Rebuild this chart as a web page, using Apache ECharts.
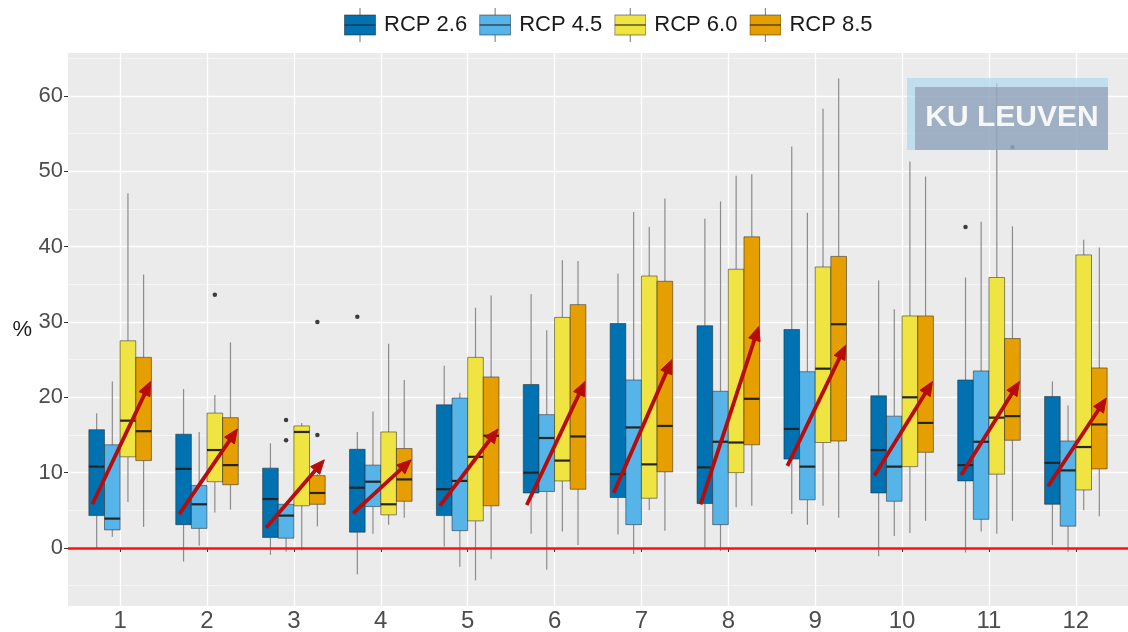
<!DOCTYPE html>
<html>
<head>
<meta charset="utf-8">
<script src="https://cdn.jsdelivr.net/npm/echarts@6/dist/echarts.min.js"></script>
<style>
  html, body { margin: 0; padding: 0; background: #ffffff; }
  #chart { width: 1128px; height: 632px; }
</style>
</head>
<body>
<div id="chart"></div>
<script>
// Months on the horizontal axis
const months = [1, 2, 3, 4, 5, 6, 7, 8, 9, 10, 11, 12];
const yTicks = [0, 10, 20, 30, 40, 50, 60];
const yMinorTicks = [-5, 5, 15, 25, 35, 45, 55, 65];

const scenarioNames = ['RCP 2.6', 'RCP 4.5', 'RCP 6.0', 'RCP 8.5'];

// Box statistics per month: [lower whisker, Q1, median, Q3, upper whisker] (%)
const rcp26 = [
  [0.0, 4.3, 10.8, 15.7, 17.9],
  [-1.8, 3.1, 10.5, 15.1, 21.1],
  [-0.9, 1.4, 6.5, 10.6, 13.9],
  [-3.5, 2.1, 8.0, 13.1, 15.4],
  [0.2, 4.3, 7.8, 19.0, 24.2],
  [1.9, 7.3, 10.0, 21.7, 33.7],
  [1.8, 6.7, 9.8, 29.8, 36.4],
  [0.0, 5.9, 10.7, 29.5, 43.7],
  [4.5, 11.8, 15.8, 29.0, 53.3],
  [-1.1, 7.3, 13.0, 20.2, 35.5],
  [-0.6, 8.9, 11.0, 22.3, 35.9],
  [0.4, 5.8, 11.3, 20.1, 22.1]
];
const rcp45 = [
  [1.5, 2.4, 3.9, 13.7, 22.1],
  [0.3, 2.6, 5.8, 8.3, 15.4],
  [-0.5, 1.3, 4.3, 5.8, 6.0],
  [1.9, 5.5, 8.8, 11.0, 18.1],
  [-2.5, 2.3, 8.9, 19.9, 20.6],
  [-2.9, 7.5, 14.6, 17.7, 28.9],
  [-0.8, 3.1, 16.0, 22.3, 44.6],
  [-0.4, 3.1, 14.1, 20.8, 46.0],
  [3.1, 6.4, 10.8, 23.4, 44.5],
  [1.6, 6.2, 10.8, 17.5, 31.7],
  [2.2, 3.8, 14.1, 23.5, 43.3],
  [-0.5, 2.9, 10.3, 14.2, 18.9]
];
const rcp60 = [
  [6.1, 12.1, 16.9, 27.5, 47.1],
  [4.7, 8.8, 13.0, 17.9, 20.3],
  [-0.3, 5.6, 15.4, 16.2, 16.6],
  [3.1, 4.4, 5.8, 15.4, 27.1],
  [-4.3, 3.6, 12.1, 25.3, 31.9],
  [2.2, 8.9, 11.6, 30.6, 38.2],
  [5.0, 6.6, 11.1, 36.1, 42.6],
  [5.4, 10.0, 14.0, 37.0, 49.4],
  [5.6, 14.0, 23.8, 37.3, 58.3],
  [2.0, 10.8, 20.0, 30.8, 51.3],
  [1.9, 9.8, 17.3, 35.9, 61.7],
  [5.0, 7.7, 13.4, 38.9, 40.9]
];
const rcp85 = [
  [2.8, 11.6, 15.5, 25.3, 36.3],
  [5.1, 8.4, 11.0, 17.3, 27.3],
  [2.9, 5.8, 7.3, 9.6, 9.8],
  [4.0, 6.2, 9.1, 13.2, 22.3],
  [-1.5, 5.6, 14.9, 22.7, 33.5],
  [0.4, 7.8, 14.8, 32.3, 38.1],
  [2.3, 10.1, 16.2, 35.4, 46.4],
  [5.6, 13.7, 19.8, 41.3, 49.6],
  [4.0, 14.2, 29.7, 38.7, 62.3],
  [3.6, 12.7, 16.6, 30.8, 49.3],
  [3.6, 14.3, 17.5, 27.8, 42.7],
  [4.2, 10.5, 16.4, 23.9, 39.9]
];

// Outliers: [month, value]
const outliers26 = [[4, 30.7], [11, 42.6]];
const outliers45 = [[3, 17.0], [3, 14.3]];
const outliers60 = [[2, 33.6]];
const outliers85 = [[3, 15.0], [3, 30.0], [11, 53.2]];

// Trend arrows per month: start value and tip value (%)
const arrowFrom = [5.8, 4.5, 2.7, 4.6, 5.6, 5.7, 7.3, 5.8, 10.9, 9.6, 9.7, 8.2];
const arrowTo = [22.1, 15.8, 11.7, 11.7, 15.8, 22.1, 25.0, 29.4, 26.9, 22.1, 22.1, 19.9];

// ---- styling / layout ----
const FONT = '"Liberation Sans", Arial, Helvetica, sans-serif';
const fills = ['#0072B2', '#56B4E9', '#F0E442', '#E69F00'];
const boxStroke = 'rgba(30,30,30,0.5)';
const whiskerColor = '#8c8c8c';
const medianColor = '#262626';
const arrowColor = '#b80c0c';
const BOX_W = 0.18;
const boxOffsets = [-0.27, -0.09, 0.09, 0.27];
const ARROW_X0 = -0.32;
const ARROW_X1 = 0.35;

const boxSets = [rcp26, rcp45, rcp60, rcp85];
const outlierSets = [outliers26, outliers45, outliers60, outliers85];

function legendIcon(color) {
  const svg =
    "<svg xmlns='http://www.w3.org/2000/svg' width='32' height='34' viewBox='0 0 32 34'>" +
    "<line x1='16' y1='0' x2='16' y2='7' stroke='" + whiskerColor + "' stroke-width='1.2'/>" +
    "<line x1='16' y1='27' x2='16' y2='34' stroke='" + whiskerColor + "' stroke-width='1.2'/>" +
    "<rect x='0.5' y='7' width='31' height='20' fill='" + color + "' stroke='" + boxStroke + "' stroke-width='1'/>" +
    "<line x1='0.5' y1='17' x2='31.5' y2='17' stroke='rgba(40,40,40,0.75)' stroke-width='1.4'/>" +
    "</svg>";
  return 'image://data:image/svg+xml;charset=utf-8,' + encodeURIComponent(svg);
}

function boxRenderer(k) {
  return function (params, api) {
    const xc = api.value(0) + boxOffsets[k];
    const half = BOX_W / 2;
    const pMin = api.coord([xc, api.value(1)]);
    const pQ1 = api.coord([xc - half, api.value(2)]);
    const pMedL = api.coord([xc - half, api.value(3)]);
    const pMedR = api.coord([xc + half, api.value(3)]);
    const pQ3 = api.coord([xc + half, api.value(4)]);
    const pMax = api.coord([xc, api.value(5)]);
    const cx = pMin[0];
    return {
      type: 'group',
      children: [
        { type: 'line', shape: { x1: cx, y1: pQ3[1], x2: cx, y2: pMax[1] },
          style: { stroke: whiskerColor, lineWidth: 1.2 } },
        { type: 'line', shape: { x1: cx, y1: pQ1[1], x2: cx, y2: pMin[1] },
          style: { stroke: whiskerColor, lineWidth: 1.2 } },
        { type: 'rect',
          shape: { x: pQ1[0], y: pQ3[1], width: pQ3[0] - pQ1[0], height: pQ1[1] - pQ3[1] },
          style: { fill: fills[k], stroke: boxStroke, lineWidth: 1 } },
        { type: 'line', shape: { x1: pMedL[0], y1: pMedL[1], x2: pMedR[0], y2: pMedR[1] },
          style: { stroke: medianColor, lineWidth: 2.2 } }
      ]
    };
  };
}

function arrowRenderer(params, api) {
  const m = api.value(0);
  const p0 = api.coord([m + ARROW_X0, api.value(1)]);
  const p1 = api.coord([m + ARROW_X1, api.value(2)]);
  const dx = p1[0] - p0[0], dy = p1[1] - p0[1];
  const len = Math.sqrt(dx * dx + dy * dy);
  const ux = dx / len, uy = dy / len;
  const headLen = 14, headHalf = 6;
  const bx = p1[0] - ux * headLen, by = p1[1] - uy * headLen;
  return {
    type: 'group',
    children: [
      { type: 'line', shape: { x1: p0[0], y1: p0[1], x2: bx + ux * 2, y2: by + uy * 2 },
        style: { stroke: arrowColor, lineWidth: 3.8, lineCap: 'butt' } },
      { type: 'polygon',
        shape: { points: [[p1[0], p1[1]], [bx - uy * headHalf, by + ux * headHalf], [bx + uy * headHalf, by - ux * headHalf]] },
        style: { fill: arrowColor, stroke: arrowColor, lineWidth: 1, lineJoin: 'miter' } }
    ]
  };
}

const series = [];
scenarioNames.forEach(function (name, k) {
  series.push({
    name: name,
    type: 'custom',
    renderItem: boxRenderer(k),
    itemStyle: { color: fills[k] },
    encode: { x: 0, y: [1, 2, 3, 4, 5] },
    data: months.map(function (m, i) { return [m].concat(boxSets[k][i]); }),
    z: 3
  });
});
scenarioNames.forEach(function (name, k) {
  series.push({
    name: name,
    type: 'scatter',
    symbol: 'circle',
    symbolSize: 4.5,
    itemStyle: { color: '#111111' },
    data: outlierSets[k].map(function (o) { return [o[0] + boxOffsets[k], o[1]]; }),
    z: 4
  });
});
series.push({
  name: 'trend',
  type: 'custom',
  renderItem: arrowRenderer,
  encode: { x: 0, y: [1, 2] },
  data: months.map(function (m, i) { return [m, arrowFrom[i], arrowTo[i]]; }),
  z: 6,
  markLine: {
    silent: true,
    symbol: 'none',
    label: { show: false },
    lineStyle: { color: '#ff1010', width: 2.6, type: 'solid' },
    data: [{ yAxis: 0 }]
  }
});

const chart = echarts.init(document.getElementById('chart'), null, { renderer: 'canvas' });
chart.setOption({
  animation: false,
  backgroundColor: '#ffffff',
  textStyle: { fontFamily: FONT },
  legend: {
    left: 339,
    top: 3,
    itemWidth: 32,
    itemHeight: 34,
    itemGap: 12,
    selectedMode: false,
    textStyle: { fontSize: 22, color: '#1a1a1a', fontFamily: FONT, padding: [0, 0, 0, 3] },
    data: scenarioNames.map(function (n, k) { return { name: n, icon: legendIcon(fills[k]) }; })
  },
  grid: {
    left: 68, right: 0, top: 53, bottom: 26,
    show: true, backgroundColor: '#EBEBEB', borderWidth: 0,
    containLabel: false, outerBoundsMode: 'none'
  },
  xAxis: {
    type: 'value',
    min: 0.4,
    max: 12.6,
    axisLine: { show: false },
    axisTick: { show: true, length: 4, lineStyle: { color: '#333333', width: 1 }, customValues: months },
    axisLabel: { customValues: months, fontSize: 24, color: '#4d4d4d', margin: 3, fontFamily: FONT },
    splitLine: { show: true, lineStyle: { color: '#ffffff', width: 1.3 } }
  },
  yAxis: [
    {
      type: 'value',
      min: -7.7,
      max: 65.7,
      name: '%',
      nameLocation: 'middle',
      nameRotate: 0,
      nameGap: 36,
      nameTextStyle: { fontSize: 22, color: '#1a1a1a', fontFamily: FONT },
      axisLine: { show: false },
      axisTick: { show: true, length: 4, lineStyle: { color: '#333333', width: 1 }, customValues: yTicks },
      axisLabel: { customValues: yTicks, fontSize: 22, color: '#4d4d4d', margin: 5, fontFamily: FONT },
      splitLine: { show: true, lineStyle: { color: '#ffffff', width: 1.3 } }
    },
    {
      type: 'value',
      min: -7.7,
      max: 65.7,
      position: 'left',
      axisLine: { show: false },
      axisTick: { show: false, customValues: yMinorTicks },
      axisLabel: { show: false, customValues: yMinorTicks },
      splitLine: { show: true, lineStyle: { color: 'rgba(255,255,255,0.75)', width: 0.7 } }
    }
  ],
  graphic: [
    { type: 'rect', left: 907, top: 78, z: 100, silent: true,
      shape: { width: 201, height: 72 }, style: { fill: 'rgba(170,215,240,0.65)' } },
    { type: 'rect', left: 915, top: 87, z: 101, silent: true,
      shape: { width: 193, height: 63 }, style: { fill: 'rgba(138,145,168,0.6)' } },
    { type: 'text', x: 1012, y: 118, z: 102, silent: true,
      style: { text: 'KU LEUVEN', fill: '#f5f7f9', font: 'bold 30px ' + FONT,
               textAlign: 'center', textVerticalAlign: 'middle' } }
  ],
  series: series
});
</script>
</body>
</html>
